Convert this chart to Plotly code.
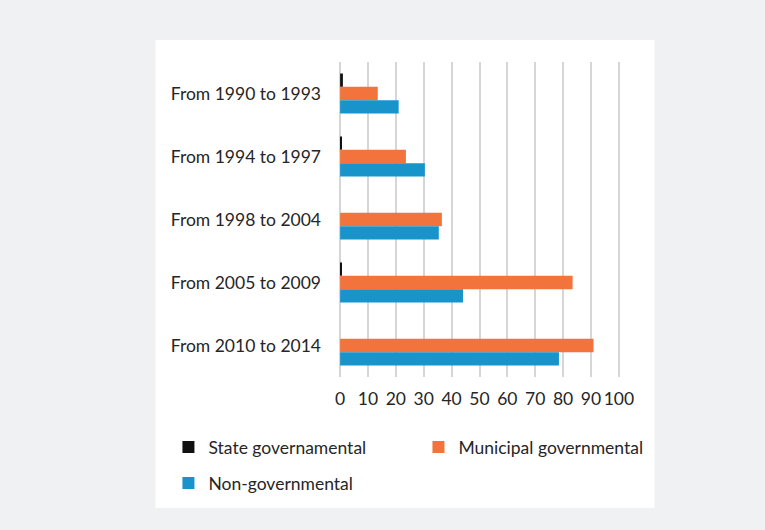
import plotly.graph_objects as go

periods = ["From 1990 to 1993", "From 1994 to 1997", "From 1998 to 2004",
           "From 2005 to 2009", "From 2010 to 2014"]
state_gov = [1.0, 0.5, 0.0, 0.5, 0.0]
municipal_gov = [13.5, 23.6, 36.5, 83.4, 90.9]
non_gov = [21.0, 30.4, 35.4, 44.1, 78.5]
x_ticks = [0, 10, 20, 30, 40, 50, 60, 70, 80, 90, 100]

FONT = "Lato, 'Open Sans', sans-serif"
TEXT = "#262626"
FS = 17.5

fig = go.Figure()
fig.add_trace(go.Bar(y=periods, x=state_gov, orientation="h", name="State governamental",
                     marker=dict(color="#111111", line_width=0), legend="legend"))
fig.add_trace(go.Bar(y=periods, x=municipal_gov, orientation="h", name="Municipal governmental",
                     marker=dict(color="#f2733c", line_width=0), legend="legend"))
fig.add_trace(go.Bar(y=periods, x=non_gov, orientation="h", name="Non-governmental",
                     marker=dict(color="#1994cb", line_width=0), legend="legend2"))

W, H = 765, 530
# value axis: 0 sits at x=340 px, 100 at x=619.3 px; small pad keeps edge gridlines visible
x0_px, x100_px = 340.0, 619.3
unit = (x100_px - x0_px) / 100
xr = [-0.4, 100.4]
L = x0_px + xr[0] * unit
R = W - (x0_px + xr[1] * unit)
T, B = 62, 530 - 377
pw, ph = W - L - R, H - T - B

def px_x(v):
    return (v - L) / pw

def px_y(v):
    return (H - B - v) / ph

fig.update_layout(
    width=W, height=H,
    margin=dict(l=L, r=R, t=T, b=B, pad=0),
    paper_bgcolor="#f0f1f3",
    plot_bgcolor="rgba(0,0,0,0)",
    barmode="group", bargap=0.365, bargroupgap=0,
    font=dict(family=FONT, size=FS, color=TEXT),
    xaxis=dict(range=xr, tickvals=x_ticks, showgrid=True, gridcolor="#d6d6d6",
               gridwidth=1.6, zeroline=False, showline=False, ticks="",
               ticklabelstandoff=9, fixedrange=True),
    yaxis=dict(autorange="reversed", showgrid=False, zeroline=False, showline=False,
               ticks="", ticklabelstandoff=17, fixedrange=True),
    legend=dict(orientation="h", x=px_x(168), xanchor="left", y=px_y(447), yanchor="middle",
                entrywidth=205, entrywidthmode="pixels", bgcolor="rgba(0,0,0,0)",
                font=dict(family=FONT, size=FS, color=TEXT), itemclick=False),
    legend2=dict(orientation="h", x=px_x(168), xanchor="left", y=px_y(483), yanchor="middle",
                 bgcolor="rgba(0,0,0,0)", font=dict(family=FONT, size=FS, color=TEXT),
                 itemclick=False),
    shapes=[dict(type="rect", xref="paper", yref="paper", layer="below",
                 x0=px_x(155), x1=px_x(655), y0=px_y(508), y1=px_y(40),
                 fillcolor="white", line_width=0)],
)

fig.write_html("out.html")
